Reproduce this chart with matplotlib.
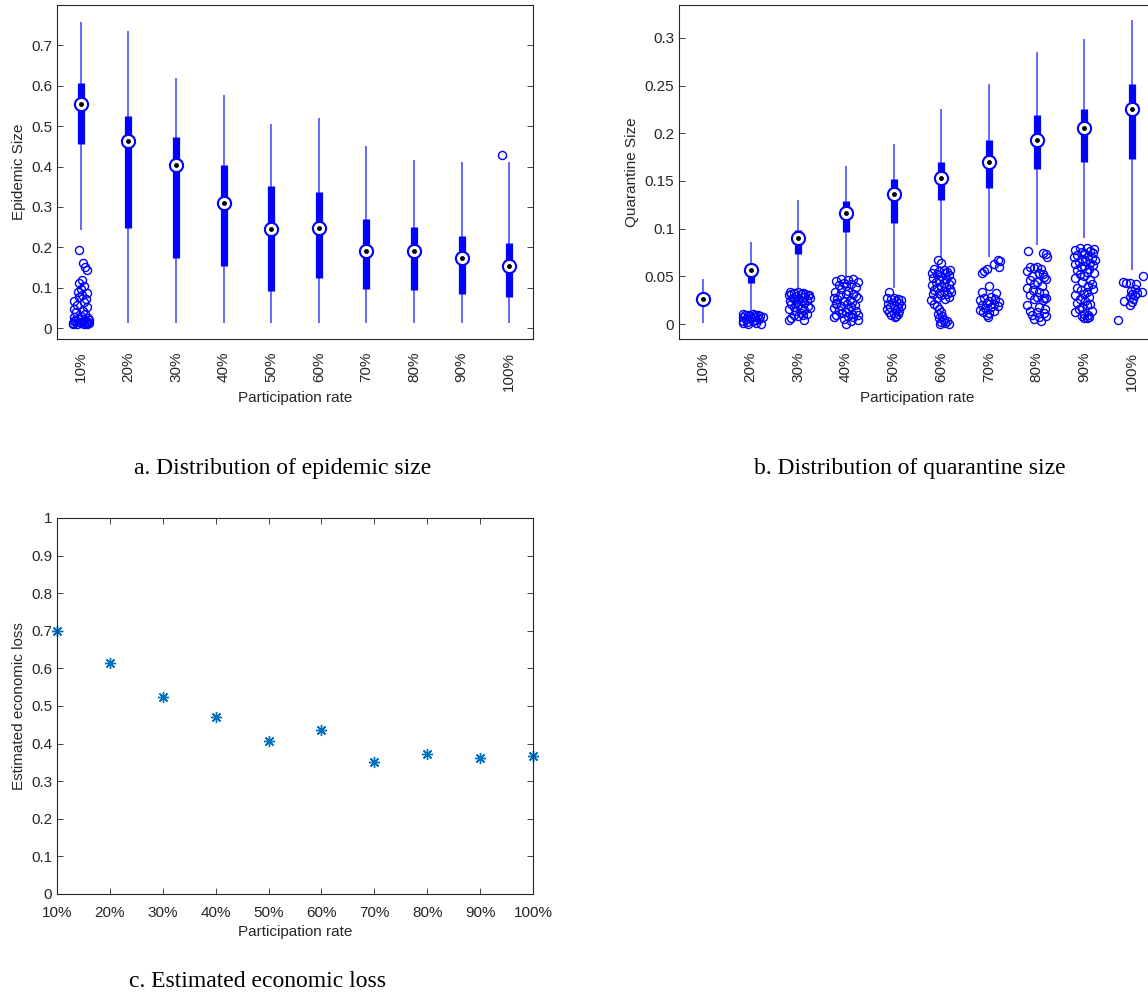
import matplotlib
matplotlib.use("Agg")
import matplotlib.pyplot as plt
from matplotlib.ticker import FormatStrFormatter

plt.rcParams['font.family'] = ['Liberation Sans', 'DejaVu Sans']

rates = ['10%', '20%', '30%', '40%', '50%', '60%', '70%', '80%', '90%', '100%']

# panel a: epidemic size box stats (whisker low, q1, median, q3, whisker high)
epi_wlo = [0.244, 0.012, 0.012, 0.012, 0.012, 0.012, 0.012, 0.012, 0.012, 0.012]
epi_q1 = [0.455, 0.247, 0.174, 0.154, 0.093, 0.125, 0.097, 0.094, 0.084, 0.078]
epi_med = [0.554, 0.464, 0.405, 0.309, 0.246, 0.249, 0.191, 0.191, 0.173, 0.154]
epi_q3 = [0.606, 0.526, 0.473, 0.404, 0.352, 0.338, 0.269, 0.251, 0.229, 0.211]
epi_whi = [0.758, 0.736, 0.620, 0.577, 0.505, 0.521, 0.451, 0.415, 0.411, 0.411]

# outliers: (group index, jitter offset, value)
epi_out_grp = [1] * 42 + [10]
epi_out_off = [-0.04, 0.05, 0.09, 0.13, 0.03, -0.04, 0.06, 0.0, -0.06, 0.12, 0.02,
               -0.03, 0.1, -0.14, 0.06, -0.08, 0.12, -0.15, 0.04, -0.1, 0.09, 0.0,
               -0.14, 0.15, -0.06, 0.08, -0.12, 0.04, 0.14, -0.04, 0.1, -0.16, 0.17,
               0.0, -0.08, 0.12, -0.16, 0.06, 0.17, -0.15, 0.02, 0.13, -0.15]
epi_out_val = [0.193, 0.160, 0.152, 0.145, 0.118, 0.112, 0.104, 0.098, 0.090, 0.086,
               0.082, 0.077, 0.072, 0.067, 0.064, 0.058, 0.053, 0.047, 0.043, 0.039,
               0.035, 0.031, 0.028, 0.025, 0.023, 0.021, 0.019, 0.018, 0.016, 0.015,
               0.014, 0.013, 0.012, 0.012, 0.011, 0.011, 0.010, 0.010, 0.020, 0.017,
               0.015, 0.013, 0.428]

# panel b: quarantine size box stats
qua_wlo = [0.001, 0.012, 0.036, 0.049, 0.038, 0.070, 0.070, 0.083, 0.090, 0.057]
qua_q1 = [0.021, 0.043, 0.0735, 0.097, 0.106, 0.130, 0.143, 0.163, 0.170, 0.173]
qua_med = [0.026, 0.057, 0.090, 0.116, 0.1365, 0.153, 0.170, 0.193, 0.206, 0.226]
qua_q3 = [0.033, 0.062, 0.099, 0.1295, 0.1526, 0.1694, 0.1925, 0.219, 0.2258, 0.252]
qua_whi = [0.047, 0.086, 0.130, 0.166, 0.189, 0.226, 0.252, 0.285, 0.299, 0.319]

qua_out_val = {
    2: [0.011, 0.011, 0.010, 0.010, 0.009, 0.009, 0.008, 0.008, 0.007, 0.007, 0.006,
        0.005, 0.005, 0.004, 0.003, 0.003, 0.002, 0.001, 0.001, 0.000, 0.000, 0.007],
    3: [0.034, 0.034, 0.033, 0.033, 0.032, 0.032, 0.031, 0.030, 0.030, 0.029, 0.028,
        0.027, 0.026, 0.025, 0.024, 0.024, 0.023, 0.022, 0.021, 0.020, 0.019, 0.018,
        0.017, 0.017, 0.016, 0.015, 0.014, 0.012, 0.011, 0.010, 0.009, 0.008, 0.006,
        0.004, 0.004, 0.030, 0.027],
    4: [0.047, 0.047, 0.046, 0.045, 0.044, 0.043, 0.042, 0.041, 0.040, 0.039, 0.037,
        0.035, 0.034, 0.032, 0.031, 0.030, 0.029, 0.027, 0.026, 0.025, 0.024, 0.023,
        0.022, 0.021, 0.020, 0.019, 0.018, 0.017, 0.016, 0.015, 0.014, 0.013, 0.012,
        0.011, 0.010, 0.009, 0.008, 0.007, 0.007, 0.005, 0.004, 0.003, 0.000, 0.027,
        0.021],
    5: [0.034, 0.027, 0.027, 0.026, 0.026, 0.025, 0.024, 0.022, 0.021, 0.020, 0.019,
        0.018, 0.017, 0.016, 0.015, 0.014, 0.013, 0.012, 0.011, 0.010, 0.008, 0.007],
    6: [0.067, 0.064, 0.058, 0.057, 0.057, 0.056, 0.055, 0.054, 0.053, 0.052, 0.051,
        0.050, 0.048, 0.047, 0.046, 0.045, 0.044, 0.043, 0.042, 0.041, 0.040, 0.039,
        0.038, 0.037, 0.036, 0.035, 0.034, 0.033, 0.032, 0.031, 0.030, 0.028, 0.027,
        0.026, 0.025, 0.021, 0.019, 0.016, 0.013, 0.011, 0.008, 0.006, 0.004, 0.003,
        0.002, 0.001, 0.000, 0.000],
    7: [0.067, 0.066, 0.063, 0.060, 0.058, 0.056, 0.053, 0.040, 0.034, 0.033, 0.028,
        0.027, 0.026, 0.025, 0.024, 0.023, 0.022, 0.021, 0.020, 0.019, 0.018, 0.017,
        0.015, 0.014, 0.013, 0.012, 0.010, 0.007],
    8: [0.077, 0.074, 0.073, 0.070, 0.060, 0.060, 0.059, 0.058, 0.056, 0.054, 0.052,
        0.050, 0.049, 0.047, 0.046, 0.044, 0.042, 0.040, 0.038, 0.036, 0.034, 0.033,
        0.030, 0.028, 0.027, 0.027, 0.026, 0.025, 0.020, 0.018, 0.016, 0.014, 0.013,
        0.012, 0.010, 0.008, 0.007, 0.005, 0.003],
    9: [0.080, 0.080, 0.079, 0.078, 0.077, 0.076, 0.075, 0.074, 0.072, 0.071, 0.070,
        0.069, 0.068, 0.067, 0.066, 0.065, 0.064, 0.063, 0.062, 0.061, 0.060, 0.058,
        0.057, 0.055, 0.053, 0.052, 0.050, 0.048, 0.046, 0.044, 0.042, 0.040, 0.038,
        0.037, 0.036, 0.034, 0.032, 0.030, 0.028, 0.026, 0.024, 0.022, 0.021, 0.020,
        0.018, 0.016, 0.014, 0.013, 0.011, 0.009, 0.008, 0.007, 0.006, 0.006],
    10: [0.050, 0.044, 0.043, 0.043, 0.042, 0.037, 0.035, 0.034, 0.033, 0.031, 0.030,
         0.028, 0.026, 0.024, 0.023, 0.020, 0.004],
}
qua_out_off = {
    2: [-0.15, 0.05, -0.05, 0.15, -0.12, 0.1, -0.02, 0.2, -0.15, 0.08, 0.0, -0.1, 0.18,
        0.12, -0.15, 0.05, -0.08, 0.12, -0.15, -0.05, 0.22, 0.25],
    3: [-0.18, 0.0, -0.08, 0.1, 0.15, -0.15, 0.05, -0.2, 0.2, -0.05, 0.12, -0.12, 0.02,
        0.18, -0.18, 0.08, -0.05, 0.12, -0.15, 0.0, 0.2, -0.1, 0.08, 0.25, -0.2, 0.12,
        -0.05, 0.05, 0.18, -0.1, 0.1, 0.0, -0.15, -0.2, 0.12, 0.22, 0.25],
    4: [-0.1, 0.15, 0.05, -0.2, 0.25, -0.05, 0.1, -0.15, 0.0, 0.2, -0.1, 0.05, -0.22,
        0.15, 0.0, -0.12, 0.2, 0.25, -0.18, 0.08, -0.05, 0.12, -0.2, 0.02, 0.18, -0.1,
        0.1, -0.25, 0.05, -0.15, 0.22, 0.0, -0.08, 0.12, 0.25, -0.2, 0.05, -0.25, 0.15,
        -0.05, 0.25, 0.1, 0.0, -0.25, -0.2],
    5: [-0.1, -0.15, 0.0, 0.08, -0.05, 0.15, 0.05, 0.12, -0.12, 0.0, 0.15, -0.08, 0.1,
        -0.15, 0.05, 0.12, -0.1, 0.0, 0.08, -0.05, 0.05, 0.02],
    6: [-0.08, 0.0, -0.15, 0.05, 0.18, -0.05, 0.12, -0.2, 0.08, -0.1, 0.15, 0.0, -0.18,
        0.1, -0.05, 0.2, -0.12, 0.05, 0.15, -0.2, 0.0, 0.1, -0.1, 0.18, -0.15, 0.05, 0.2,
        -0.05, 0.12, -0.18, 0.0, 0.15, -0.1, 0.08, -0.22, -0.15, -0.1, -0.05, 0.0, -0.08,
        0.02, -0.05, 0.05, 0.12, 0.0, 0.08, -0.02, 0.15],
    7: [0.18, 0.22, 0.1, 0.2, -0.05, -0.1, -0.15, 0.0, -0.15, 0.15, 0.05, -0.1, 0.12,
        -0.2, 0.0, 0.2, -0.05, 0.1, -0.15, 0.18, 0.05, -0.08, -0.2, 0.1, -0.12, 0.0,
        -0.05, -0.02],
    8: [-0.18, 0.12, 0.2, 0.22, -0.15, 0.0, -0.05, 0.08, -0.2, 0.05, 0.12, -0.1, 0.15,
        0.2, -0.15, 0.0, -0.05, 0.1, -0.2, -0.08, 0.05, 0.15, -0.15, 0.0, 0.15, 0.2,
        -0.05, 0.12, -0.2, 0.05, 0.18, -0.15, 0.0, 0.15, -0.1, 0.2, 0.05, -0.05, 0.08],
    9: [-0.1, 0.05, 0.2, -0.2, 0.12, -0.05, 0.0, 0.18, -0.15, 0.08, -0.22, 0.15, -0.05,
        0.22, 0.02, -0.12, 0.12, -0.2, 0.18, 0.0, -0.08, 0.1, -0.15, 0.05, 0.2, -0.1,
        0.0, -0.2, 0.12, -0.05, 0.15, 0.08, -0.15, 0.18, -0.08, 0.05, 0.0, -0.2, 0.1,
        -0.1, 0.02, -0.15, 0.12, 0.05, -0.05, -0.12, 0.15, -0.2, 0.0, 0.08, -0.05, 0.1,
        0.05, -0.02],
    10: [0.22, -0.2, -0.12, -0.05, 0.08, 0.05, -0.02, 0.2, 0.1, 0.0, 0.05, -0.05, 0.02,
         -0.18, 0.0, -0.05, -0.3],
}

# panel c: estimated economic loss
loss = [0.700, 0.614, 0.525, 0.471, 0.406, 0.435, 0.352, 0.373, 0.362, 0.366]

BLUE = '#0000ff'
DARK = '#262626'


def compact_box(ax, wlo, q1, med, q3, whi, out_x, out_y):
    pos = list(range(1, len(wlo) + 1))
    ax.vlines(pos, wlo, whi, color='#4040ff', linewidth=1.1, zorder=2)
    ax.vlines(pos, q1, q3, color=BLUE, linewidth=5.2, zorder=3)
    ax.plot(out_x, out_y, 'o', mfc='none', mec=BLUE, ms=5.8, mew=1.0, zorder=2)
    ax.plot(pos, med, 'o', mfc='white', mec=BLUE, ms=9.5, mew=1.5, zorder=4)
    ax.plot(pos, med, 'o', color='black', ms=2.5, zorder=5)


def style_box_axes(ax, ylabel):
    ax.set_xlim(0.5, 10.5)
    ax.set_xticks(range(1, 11))
    ax.set_xticklabels(rates, rotation=90, fontsize=11, color=DARK)
    ax.tick_params(axis='x', length=0, pad=9)
    ax.tick_params(axis='y', direction='in', length=4, right=True, labelsize=11,
                   colors=DARK, width=0.6)
    ax.set_xlabel('Participation rate', fontsize=11, color=DARK, labelpad=0)
    ax.set_ylabel(ylabel, fontsize=11, color=DARK)
    for s in ax.spines.values():
        s.set_color(DARK)
        s.set_linewidth(0.8)


fig = plt.figure(figsize=(11.48, 9.93), dpi=100)

# a. epidemic size
ax1 = fig.add_axes([0.0497, 0.6586, 0.4146, 0.3364])
ox = [epi_out_grp[i] + epi_out_off[i] for i in range(len(epi_out_val))]
compact_box(ax1, epi_wlo, epi_q1, epi_med, epi_q3, epi_whi, ox, epi_out_val)
style_box_axes(ax1, 'Epidemic Size')
ax1.set_ylim(-0.027, 0.8)
ax1.set_yticks([0, 0.1, 0.2, 0.3, 0.4, 0.5, 0.6, 0.7])
ax1.yaxis.set_major_formatter(FormatStrFormatter('%g'))

# b. quarantine size
ax2 = fig.add_axes([0.5915, 0.6586, 0.4155, 0.3364])
qx, qy = [], []
for g in qua_out_val:
    qx += [g + o for o in qua_out_off[g]]
    qy += qua_out_val[g]
compact_box(ax2, qua_wlo, qua_q1, qua_med, qua_q3, qua_whi, qx, qy)
style_box_axes(ax2, 'Quarantine Size')
ax2.set_ylim(-0.0157, 0.3346)
ax2.set_yticks([0, 0.05, 0.1, 0.15, 0.2, 0.25, 0.3])
ax2.yaxis.set_major_formatter(FormatStrFormatter('%g'))

# c. economic loss
ax3 = fig.add_axes([0.0497, 0.0997, 0.4146, 0.3787])
ax3.plot(range(1, 11), loss, linestyle='none', marker=(8, 2, 0), color='#0072BD',
         ms=8, mew=1.0, clip_on=False)
ax3.set_xlim(1, 10)
ax3.set_ylim(0, 1)
ax3.set_xticks(range(1, 11))
ax3.set_xticklabels(rates)
ax3.set_yticks([i / 10 for i in range(11)])
ax3.yaxis.set_major_formatter(FormatStrFormatter('%g'))
ax3.tick_params(direction='in', length=4, top=True, right=True, labelsize=11,
                colors=DARK, width=0.6)
ax3.tick_params(axis='x', pad=9)
ax3.set_xlabel('Participation rate', fontsize=11, color=DARK, labelpad=3)
ax3.set_ylabel('Estimated economic loss', fontsize=11, color=DARK)
for s in ax3.spines.values():
    s.set_color(DARK)
    s.set_linewidth(0.8)

cap = dict(fontsize=17, family='Liberation Serif', ha='center', va='center')
fig.text(0.2465, 0.5287, 'a. Distribution of epidemic size', **cap)
fig.text(0.7927, 0.5287, 'b. Distribution of quarantine size', **cap)
fig.text(0.2239, 0.0111, 'c. Estimated economic loss', **cap)

fig.savefig('out.png', dpi=100)
